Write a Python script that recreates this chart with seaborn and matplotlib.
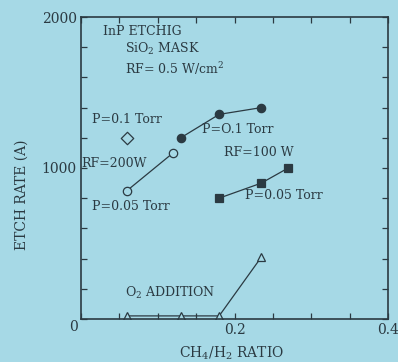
import matplotlib
matplotlib.use("Agg")
import matplotlib.pyplot as plt
import seaborn as sns
import pandas as pd
from matplotlib.ticker import MultipleLocator

sns.set_style("ticks")
plt.rcParams['font.family'] = ['DejaVu Serif']
plt.rcParams['mathtext.fontset'] = 'dejavuserif'

# Data
diamond_x = [0.06]
diamond_y = [1200]
filled_circle_x = [0.13, 0.18, 0.235]
filled_circle_y = [1200, 1355, 1400]
open_circle_x = [0.06, 0.12]
open_circle_y = [850, 1100]
square_x = [0.18, 0.235, 0.27]
square_y = [800, 900, 1000]
triangle_x = [0.06, 0.13, 0.18, 0.235]
triangle_y = [20, 20, 20, 410]

x_tick_values = [0.2, 0.4]
x_tick_labels = ["0.2", "0.4"]
y_tick_values = [1000, 2000]
y_tick_labels = ["1000", "2000"]

bg = "#a6d9e6"
ink = "#2b3a42"

fig = plt.figure(figsize=(3.98, 3.62), dpi=100, facecolor=bg)
ax = fig.add_axes([0.2035, 0.119, 0.7715, 0.834])
ax.set_facecolor(bg)

def line(xs, ys, marker, fill, size):
    df = pd.DataFrame({"x": xs, "y": ys})
    sns.lineplot(data=df, x="x", y="y", ax=ax, sort=False, color=ink, lw=0.9,
                 marker=marker, markersize=size,
                 markerfacecolor=fill, markeredgecolor=ink, markeredgewidth=0.9)

line(filled_circle_x, filled_circle_y, "o", ink, 6)
line(open_circle_x, open_circle_y, "o", bg, 6)
line(square_x, square_y, "s", ink, 6)
line(triangle_x, triangle_y, "^", bg, 6)
sns.scatterplot(x=diamond_x, y=diamond_y, ax=ax, marker="D", s=40,
                facecolor=bg, edgecolor=ink, linewidth=0.9)

ax.set_xlim(0, 0.4)
ax.set_ylim(0, 2000)
ax.set_xticks(x_tick_values)
ax.set_xticklabels(x_tick_labels)
ax.set_yticks(y_tick_values)
ax.set_yticklabels(y_tick_labels)
ax.xaxis.set_minor_locator(MultipleLocator(0.05))
ax.yaxis.set_minor_locator(MultipleLocator(200))
ax.tick_params(which="both", direction="in", top=True, right=True,
               length=4, width=0.9, color=ink, labelsize=10, labelcolor=ink, pad=3)
for s in ax.spines.values():
    s.set_color(ink)
    s.set_linewidth(1.2)

ax.text(-0.025, -0.028, "0", transform=ax.transAxes, ha="center", va="center",
        fontsize=10, color=ink)

ax.set_xlabel(r"CH$_4$/H$_2$ RATIO", fontsize=10, color=ink)
ax.set_ylabel("ETCH RATE (A)", fontsize=10, color=ink)
ax.xaxis.set_label_coords(0.49, -0.085)
ax.yaxis.set_label_coords(-0.172, 0.41)

fs = 9
ax.text(0.029, 1905, "InP ETCHIG", fontsize=fs, color=ink, va="center")
ax.text(0.057, 1790, r"SiO$_2$ MASK", fontsize=fs, color=ink, va="center")
ax.text(0.057, 1660, r"RF= 0.5 W/cm$^2$", fontsize=fs, color=ink, va="center")
ax.text(0.014, 1320, "P=0.1 Torr", fontsize=fs, color=ink, va="center")
ax.text(0.0, 1030, "RF=200W", fontsize=fs, color=ink, va="center")
ax.text(0.014, 745, "P=0.05 Torr", fontsize=fs, color=ink, va="center")
ax.text(0.157, 1255, "P=O.1 Torr", fontsize=fs, color=ink, va="center")
ax.text(0.186, 1100, "RF=100 W", fontsize=fs, color=ink, va="center")
ax.text(0.213, 815, "P=0.05 Torr", fontsize=fs, color=ink, va="center")
ax.text(0.057, 170, r"O$_2$ ADDITION", fontsize=fs, color=ink, va="center")

fig.savefig("out.png", dpi=100, facecolor=bg)
